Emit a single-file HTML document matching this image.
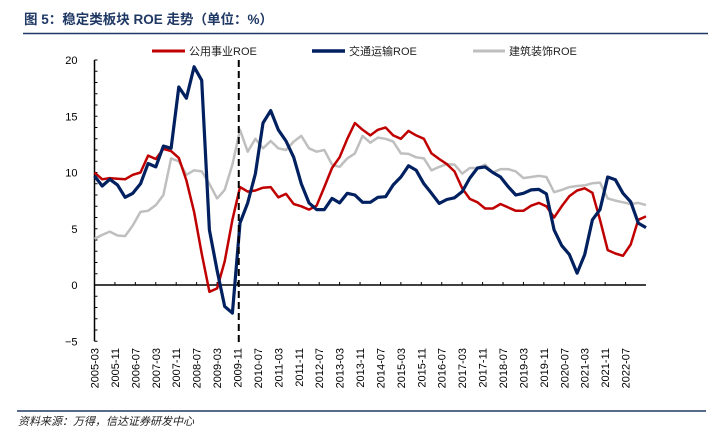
<!DOCTYPE html>
<html><head><meta charset="utf-8"><style>
body{margin:0;background:#fff;}
svg{display:block;font-family:"Liberation Sans","Noto Sans CJK SC",sans-serif;}
</style></head><body>
<svg id="chart" width="708" height="436" viewBox="0 0 708 436">
<text x="24" y="24" font-size="13.5" font-weight="bold" fill="#1f3864">图 5：稳定类板块 ROE 走势（单位：%）</text>
<line x1="23" y1="33.5" x2="708" y2="33.5" stroke="#1f3864" stroke-width="1.5"/>
<line x1="17" y1="411" x2="706" y2="411" stroke="#1f3864" stroke-width="1.5"/>
<text x="18" y="425" font-size="11" font-style="italic" fill="#222">资料来源：万得，信达证券研发中心</text>
<g>
<g><line x1="152" y1="51" x2="185" y2="51" stroke="#c00000" stroke-width="3"/><text x="189" y="55" font-size="11" fill="#222">公用事业ROE</text></g>
<g><line x1="312" y1="51" x2="345" y2="51" stroke="#002060" stroke-width="3.5"/><text x="349" y="55" font-size="11" fill="#222">交通运输ROE</text></g>
<g><line x1="473" y1="51" x2="505" y2="51" stroke="#bfbfbf" stroke-width="3"/><text x="509" y="55" font-size="11" fill="#222">建筑装饰ROE</text></g>
</g>
<g id="plot"></g>
</svg>
<script>
const utilities=[10.0,9.4,9.5,9.45,9.4,9.8,10.0,11.5,11.2,12.1,11.9,11.3,9.3,6.5,2.8,-0.6,-0.3,2.1,5.8,8.7,8.3,8.4,8.65,8.7,7.8,8.1,7.2,7.0,6.7,7.05,8.7,10.4,11.35,13.0,14.4,13.8,13.3,13.8,14.0,13.3,13.0,13.7,13.3,13.0,11.7,11.2,10.75,10.1,8.6,7.65,7.35,6.8,6.8,7.2,6.9,6.6,6.6,7.05,7.3,7.0,6.0,7.0,7.9,8.4,8.6,8.2,5.8,3.1,2.8,2.6,3.6,5.8,6.1];
const transport=[9.7,8.8,9.4,8.9,7.8,8.15,9.0,10.8,10.5,12.35,12.15,17.6,16.6,19.4,18.2,4.9,1.3,-1.9,-2.5,5.5,7.3,9.9,14.4,15.5,13.8,12.8,11.35,9.0,7.3,6.7,6.7,7.7,7.3,8.15,8.0,7.35,7.35,7.8,7.85,8.9,9.6,10.6,10.2,9.0,8.15,7.25,7.6,7.75,8.3,9.5,10.4,10.5,10.0,9.6,8.75,8.0,8.15,8.45,8.5,8.1,4.9,3.5,2.7,1.05,2.7,5.8,6.7,9.6,9.35,8.15,7.4,5.5,5.1];
const construction=[4.1,4.45,4.75,4.4,4.35,5.3,6.5,6.6,7.1,8.0,11.25,11.0,9.8,10.2,10.1,9.0,7.7,8.45,10.7,13.8,11.85,13.0,12.15,12.8,12.15,12.0,12.75,13.25,12.15,11.85,12.0,10.7,10.5,11.25,11.7,13.25,12.65,13.1,13.0,12.75,11.7,11.65,11.35,11.25,10.2,10.5,10.75,10.7,9.9,10.4,10.4,10.7,10.0,10.3,10.3,10.1,9.5,9.6,9.7,9.6,8.25,8.45,8.7,8.8,8.85,9.05,9.1,7.7,7.5,7.35,7.2,7.3,7.1];
const yTicks=[-5,0,5,10,15,20];
const xLabels=["2005-03","2005-11","2006-07","2007-03","2007-11","2008-07","2009-03","2009-11","2010-07","2011-03","2011-11","2012-07","2013-03","2013-11","2014-07","2015-03","2015-11","2016-07","2017-03","2017-11","2018-07","2019-03","2019-11","2020-07","2021-03","2021-11","2022-07"];
const dividerMonth=56.5;

const X0=94.5,X1=646,Y0=285,PU=11.25,TOTAL=216;
const xm=m=>X0+m*(X1-X0)/TOTAL;
const xi=i=>xm(i*3);
const y=v=>Y0-v*PU;
const NS="http://www.w3.org/2000/svg";
const plot=document.getElementById('plot');
function mk(t,a){const e=document.createElementNS(NS,t);for(const k in a)e.setAttribute(k,a[k]);plot.appendChild(e);return e;}

// y axis
let ya=mk('line',{x1:X0,y1:y(20),x2:X0,y2:y(-5),stroke:'#000','stroke-width':1.5});


for(let v=-5;v<=20;v++){const t=mk('line',{x1:X0,y1:y(v),x2:X0+3,y2:y(v),stroke:'#000','stroke-width':1});}
yTicks.forEach(v=>{const t=mk('text',{x:X0-17,y:y(v)+4,'font-size':11,'text-anchor':'end',fill:'#000'});t.textContent=v<0?'\u2212'+Math.abs(v):String(v);});
// x axis
let xa=mk('line',{x1:X0,y1:Y0,x2:X1,y2:Y0,stroke:'#000','stroke-width':1.5});


xLabels.forEach((l,k)=>{const px=xm(k*8);
 if(k>0){const t=mk('line',{x1:px,y1:Y0,x2:px,y2:Y0-3,stroke:'#000','stroke-width':1});}
 const tx=mk('text',{x:0,y:0,'font-size':11,'text-anchor':'end',fill:'#000',transform:`translate(${px+4},348) rotate(-90)`});
 tx.textContent=l;
 
 });
// series
function series(arr,color,w,name){const d=arr.map((v,i)=>(i?'L':'M')+xi(i).toFixed(1)+','+y(v).toFixed(1)).join('');
 const p=mk('path',{d:d,fill:'none',stroke:color,'stroke-width':w,'stroke-linejoin':'round'});
 
 }
series(construction,'#bfbfbf',2.5,'construction-roe-line');
series(utilities,'#c00000',2.5,'utilities-roe-line');
series(transport,'#002060',3.2,'transport-roe-line');
// divider
const dv=mk('line',{x1:xm(dividerMonth),y1:y(20),x2:xm(dividerMonth),y2:y(-5.2),stroke:'#000','stroke-width':2,'stroke-dasharray':'7,4'});


</script>
</body></html>
